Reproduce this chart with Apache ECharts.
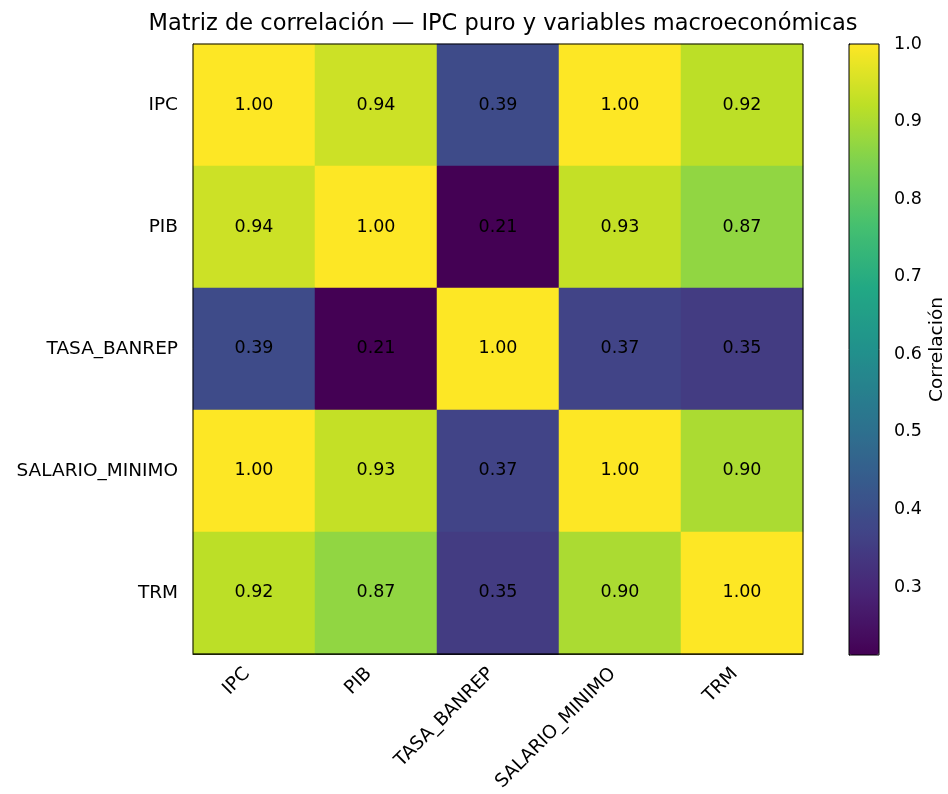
<!DOCTYPE html>
<html>
<head>
<meta charset="utf-8">
<script src="https://cdn.jsdelivr.net/npm/echarts@6/dist/echarts.min.js"></script>
<style>
  html, body { margin: 0; padding: 0; background: #fff; }
  #chart { width: 948px; height: 794px; }
</style>
</head>
<body>
<div id="chart"></div>
<script>
const variables = ['IPC', 'PIB', 'TASA_BANREP', 'SALARIO_MINIMO', 'TRM'];
const rowIPC = [1.00, 0.94, 0.39, 1.00, 0.92];
const rowPIB = [0.94, 1.00, 0.212, 0.93, 0.87];
const rowTasa = [0.39, 0.212, 1.00, 0.37, 0.35];
const rowSalario = [1.00, 0.93, 0.37, 1.00, 0.90];
const rowTRM = [0.92, 0.87, 0.35, 0.90, 1.00];
const colorbarTicks = [0.3, 0.4, 0.5, 0.6, 0.7, 0.8, 0.9, 1.0];

const viridis = ['#440154', '#482475', '#414487', '#355f8d', '#2a788e', '#21918c',
  '#22a884', '#44bf70', '#7ad151', '#bddf26', '#fde725'];

const rows = [rowIPC, rowPIB, rowTasa, rowSalario, rowTRM];
const cells = [];
rows.forEach((row, i) => {
  row.forEach((v, j) => cells.push([j, i, v]));
});
const vMin = 0.2123, vMax = 1.0;

const chart = echarts.init(document.getElementById('chart'));
const font = 'DejaVu Sans';
const fs = 17.5;   // numbers
const fsText = 18.5; // word labels
const option = {
  animation: false,
  textStyle: { fontFamily: font },
  title: {
    text: 'Matriz de correlación — IPC puro y variables macroeconómicas',
    left: 498,
    top: 8,
    textAlign: 'center',
    textStyle: { fontFamily: font, fontSize: 22.5, fontWeight: 'normal', color: '#000' }
  },
  grid: [
    { left: 193, top: 44, width: 610, height: 611, show: true, z: 5,
      backgroundColor: 'transparent', borderColor: '#000', borderWidth: 1 },
    { left: 849, top: 44, width: 30, height: 611, show: true, z: 5,
      backgroundColor: 'transparent', borderColor: '#000', borderWidth: 1 }
  ],
  xAxis: [
    {
      type: 'category', gridIndex: 0, data: variables,
      axisLine: { lineStyle: { color: '#000' } },
      axisTick: { alignWithLabel: true, length: 6, lineStyle: { color: '#000' } },
      axisLabel: { rotate: 45, margin: 10, padding: [0, 10, 0, 0], fontSize: fsText, color: '#000', fontFamily: font },
      splitLine: { show: false }
    },
    {
      type: 'value', gridIndex: 1, show: false
    }
  ],
  yAxis: [
    {
      type: 'category', gridIndex: 0, data: variables, inverse: true,
      axisLine: { lineStyle: { color: '#000' } },
      axisTick: { alignWithLabel: true, length: 6, lineStyle: { color: '#000' } },
      axisLabel: { margin: 15, fontSize: fsText, color: '#000', fontFamily: font },
      splitLine: { show: false }
    },
    {
      type: 'value', gridIndex: 1, position: 'right', min: vMin, max: vMax,
      name: 'Correlación', nameLocation: 'middle', nameRotate: 90, nameGap: 49,
      nameTextStyle: { fontSize: fsText, color: '#000', fontFamily: font },
      axisLine: { show: true, lineStyle: { color: '#000' } },
      axisTick: { show: true, length: 7, customValues: colorbarTicks, lineStyle: { color: '#000' } },
      axisLabel: { margin: 15, fontSize: fs, color: '#000', fontFamily: font,
        customValues: colorbarTicks, formatter: v => v.toFixed(1) },
      splitLine: { show: false }
    }
  ],
  visualMap: {
    type: 'continuous',
    min: vMin, max: vMax,
    seriesIndex: 0,
    calculable: false,
    realtime: false,
    orient: 'vertical',
    left: 849, top: 44,
    padding: 0,
    itemWidth: 30, itemHeight: 611,
    text: null,
    showLabel: false,
    inRange: { color: viridis },
    hoverLink: false
  },
  series: [{
    type: 'heatmap',
    xAxisIndex: 0, yAxisIndex: 0,
    data: cells,
    label: {
      show: true, color: '#000', fontSize: fs, fontFamily: font,
      formatter: p => p.value[2].toFixed(2)
    },
    itemStyle: { borderWidth: 0 },
    emphasis: { disabled: true }
  }]
};
chart.setOption(option);
</script>
</body>
</html>
